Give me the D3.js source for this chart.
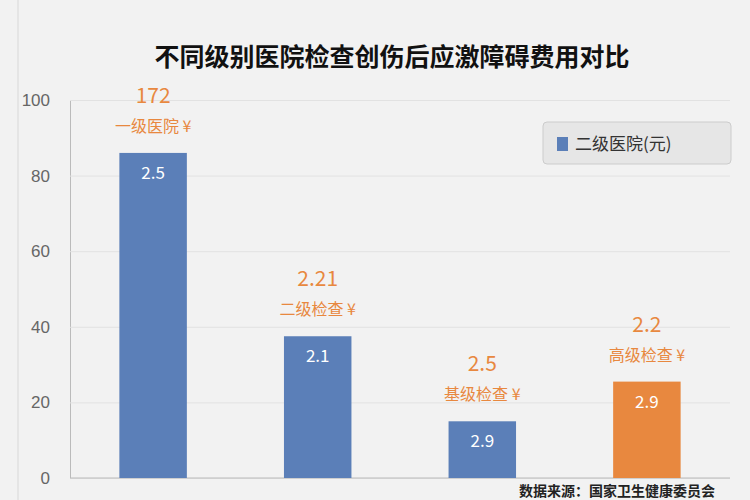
<!DOCTYPE html><html><head><meta charset="utf-8"><script src="https://cdn.jsdelivr.net/npm/d3@7"></script>
<style>body{margin:0;background:#f2f2f2}svg{font-family:"Noto Sans CJK SC",sans-serif}</style></head><body><svg id="c" width="750" height="500"></svg><script>
const categories=["一级医院","二级检查","基级检查","高级检查"];
const values=[86,37.5,15,25.5];
const topLabels=["172","2.21","2.5","2.2"];
const innerLabels=["2.5","2.1","2.9","2.9"];
const colors=["#5b7fb8","#5b7fb8","#5b7fb8","#e8883f"];
const yTicks=[0,20,40,60,80,100];
const svg=d3.select("#c");
svg.append("rect").attr("width",750).attr("height",500).attr("fill","#f2f2f2");
svg.append("line").attr("x1",18).attr("x2",18).attr("y1",0).attr("y2",500).attr("stroke","#d8d8d8");
const x=d3.scaleBand().domain(categories).range([70,730]).paddingInner(0.59).paddingOuter(0.3);
const y=d3.scaleLinear().domain([0,100]).range([478,100]);
svg.append("text").attr("x",392).attr("y",66).attr("text-anchor","middle").attr("font-size",25).attr("font-weight","bold").attr("fill","#111").text("不同级别医院检查创伤后应激障碍费用对比");
const ga=svg.append("g").attr("transform","translate(70,0)").call(d3.axisLeft(y).tickValues(yTicks).tickSize(-660).tickFormat(d=>d));
ga.select(".domain").attr("stroke","#bbb");
ga.selectAll(".tick line").attr("stroke","#e2e2e2");
ga.selectAll(".tick text").attr("x",-20).attr("font-size",17).attr("fill","#666");
svg.append("line").attr("x1",70).attr("x2",730).attr("y1",478).attr("y2",478).attr("stroke","#bbb");
svg.selectAll(".bar").data(categories).join("rect").attr("x",d=>x(d)).attr("width",x.bandwidth()).attr("y",(d,i)=>y(values[i])).attr("height",(d,i)=>478-y(values[i])).attr("fill",(d,i)=>colors[i]);
svg.selectAll(".in").data(categories).join("text").attr("x",d=>x(d)+x.bandwidth()/2).attr("y",(d,i)=>y(values[i])+26).attr("text-anchor","middle").attr("font-size",17).attr("fill","#fff").text((d,i)=>innerLabels[i]);
svg.selectAll(".tv").data(categories).join("text").attr("x",d=>x(d)+x.bandwidth()/2).attr("y",(d,i)=>y(values[i])-50).attr("text-anchor","middle").attr("font-size",21).attr("fill","#e8883f").text((d,i)=>topLabels[i]);
svg.selectAll(".tc").data(categories).join("text").attr("x",d=>x(d)+x.bandwidth()/2).attr("y",(d,i)=>y(values[i])-21).attr("text-anchor","middle").attr("font-size",16).attr("fill","#e8883f").text(d=>d+" ¥");
const lg=svg.append("g");
lg.append("rect").attr("x",543).attr("y",122).attr("width",188).attr("height",42).attr("rx",4).attr("fill","#e6e6e6").attr("stroke","#ccc");
lg.append("rect").attr("x",557).attr("y",137).attr("width",11).attr("height",14).attr("fill","#5b7fb8");
lg.append("text").attr("x",575).attr("y",150).attr("font-size",17).attr("fill","#333").text("二级医院(元)");
svg.append("text").attr("x",715).attr("y",496).attr("text-anchor","end").attr("font-size",14).attr("font-weight","bold").attr("fill","#222").text("数据来源：国家卫生健康委员会");
</script></body></html>
